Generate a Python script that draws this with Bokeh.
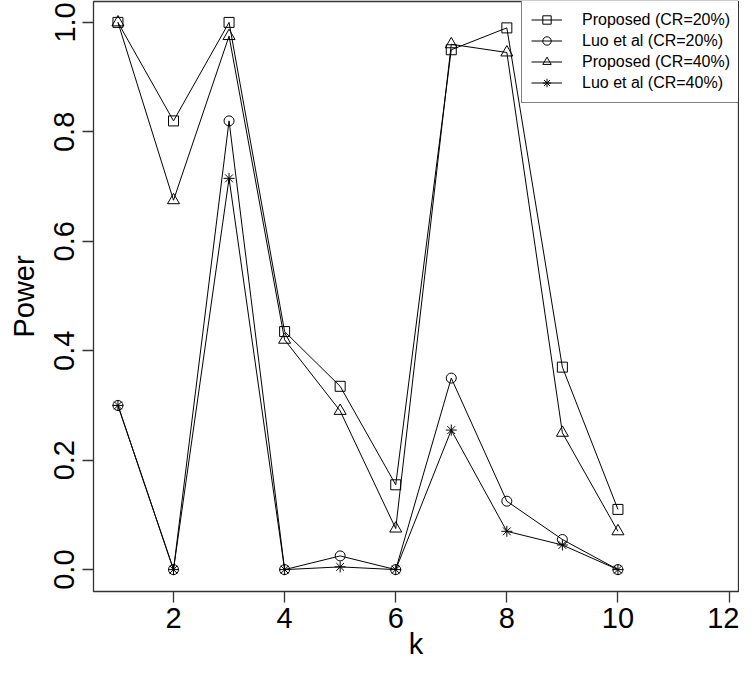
from bokeh.plotting import figure
from bokeh.models import Range1d, FixedTicker, PrintfTickFormatter, Legend, LegendItem
from bokeh.embed import file_html
from bokeh.resources import INLINE

# ---- data ----
k = [1, 2, 3, 4, 5, 6, 7, 8, 9, 10]
proposed_cr20 = [1.0, 0.82, 1.0, 0.435, 0.335, 0.155, 0.95, 0.99, 0.37, 0.11]
luo_cr20 = [0.30, 0.0, 0.82, 0.0, 0.025, 0.0, 0.35, 0.125, 0.055, 0.0]
proposed_cr40 = [1.0, 0.675, 0.975, 0.42, 0.29, 0.075, 0.96, 0.945, 0.25, 0.07]
luo_cr40 = [0.30, 0.0, 0.715, 0.0, 0.005, 0.0, 0.255, 0.07, 0.045, 0.0]

series_labels = ["Proposed (CR=20%)", "Luo et al (CR=20%)", "Proposed (CR=40%)", "Luo et al (CR=40%)"]
x_ticks = [2, 4, 6, 8, 10, 12]
y_ticks = [0.0, 0.2, 0.4, 0.6, 0.8, 1.0]

FONT = "Liberation Sans"
FRAME = "#333333"

p = figure(width=739, height=663,
           x_range=Range1d(0.56, 12.17), y_range=Range1d(-0.04, 1.0382),
           output_backend="svg", toolbar_location=None,
           min_border_left=93, min_border_right=1, min_border_top=1, min_border_bottom=72,
           x_axis_label="k", y_axis_label="Power")

p.xgrid.visible = False
p.ygrid.visible = False
p.background_fill_color = "white"
p.border_fill_color = "white"
p.outline_line_color = FRAME
p.outline_line_width = 1.3

for ax in (p.xaxis, p.yaxis):
    ax.axis_line_color = None
    ax.major_tick_out = 11
    ax.major_tick_in = 0
    ax.major_tick_line_color = FRAME
    ax.major_tick_line_width = 1.3
    ax.minor_tick_line_color = None
    ax.major_label_text_font = FONT
    ax.major_label_text_font_size = "29px"
    ax.major_label_text_color = "black"
    ax.axis_label_text_font = FONT
    ax.axis_label_text_font_size = "29px"
    ax.axis_label_text_font_style = "normal"
    ax.axis_label_text_color = "black"

p.xaxis.ticker = FixedTicker(ticks=x_ticks)
p.yaxis.ticker = FixedTicker(ticks=y_ticks)
p.yaxis.formatter = PrintfTickFormatter(format="%.1f")
p.yaxis.major_label_orientation = "vertical"
p.xaxis.major_label_standoff = 5
p.yaxis.major_label_standoff = 8
p.xaxis.axis_label_standoff = -3
p.yaxis.axis_label_standoff = 12

data = [proposed_cr20, luo_cr20, proposed_cr40, luo_cr40]
markers = ["square", "circle", "triangle", "asterisk"]
sizes = [10, 10, 12, 11]

items = []
for vals, mk, sz, lab in zip(data, markers, sizes, series_labels):
    ln = p.line(k, vals, line_color="black", line_width=1.0)
    sc = p.scatter(k, vals, marker=mk, size=sz, fill_color=None,
                   line_color="black", line_width=1.0)
    items.append(LegendItem(label=lab, renderers=[ln, sc]))

legend = Legend(items=items, location=(428, 488), margin=0, padding=9,
                spacing=0, glyph_width=31, glyph_height=21, label_height=21,
                label_standoff=20, label_text_font=FONT, label_text_font_size="16px",
                label_text_color="black", border_line_color="black",
                border_line_width=1, background_fill_color="white",
                background_fill_alpha=1.0)
p.add_layout(legend)

open("out.html", "w").write(file_html(p, INLINE))
